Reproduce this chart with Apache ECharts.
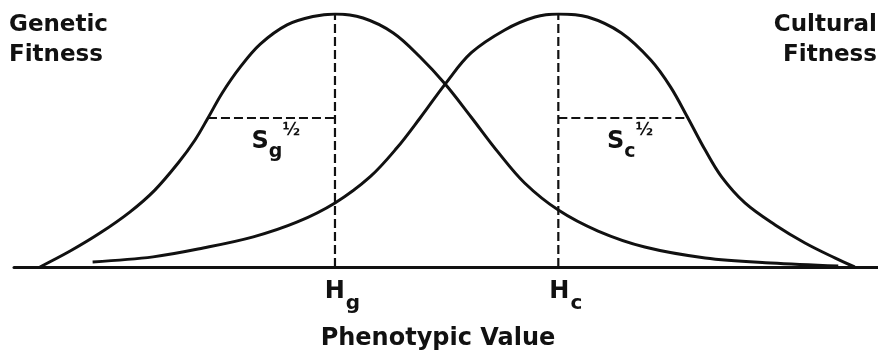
<!DOCTYPE html>
<html lang="en">
<head>
    <meta charset="UTF-8">
    <title>Genetic vs Cultural Fitness</title>
    <script src="https://cdn.jsdelivr.net/npm/echarts@6/dist/echarts.min.js"></script>
</head>
<body style="margin:0">
    <div id="main" style="width: 878px;height: 354px"></div>
    <script type="text/javascript">
        // phenotypic value on a 0-100 scale, fitness relative to the peak (0-1)
        var geneticX = [3.0, 6.5, 9.95, 13.4, 16.3, 19.0, 20.95, 22.45, 24.1, 26.2, 28.5, 31.6, 34.6, 37.15, 40.4, 43.9, 47.0, 49.9, 52.9, 56.0, 59.1, 63.0, 67.6, 73.0, 80.0, 87.6, 95.4];
        var geneticY = [0, 0.063, 0.134, 0.217, 0.304, 0.411, 0.502, 0.589, 0.688, 0.791, 0.881, 0.957, 0.990, 1.0, 0.984, 0.925, 0.830, 0.723, 0.593, 0.455, 0.332, 0.225, 0.142, 0.079, 0.036, 0.016, 0.004];

        var culturalX = [9.1, 16.1, 21.9, 27.7, 32.8, 37.15, 41.2, 44.3, 47.0, 49.9, 52.9, 56.8, 60.3, 63.0, 66.4, 70.3, 73.7, 76.0, 78.0, 80.0, 81.9, 84.6, 88.1, 91.55, 95.0, 97.3];
        var culturalY = [0.020, 0.040, 0.075, 0.119, 0.178, 0.253, 0.356, 0.470, 0.589, 0.723, 0.846, 0.937, 0.988, 1.0, 0.988, 0.925, 0.818, 0.711, 0.589, 0.462, 0.356, 0.253, 0.166, 0.095, 0.036, 0];

        var peakX = [37.15, 63.0];         // H_g, H_c
        var peakSub = ['g', 'c'];
        var halfLevel = 0.589;             // level of the S^1/2 markers
        var halfEdgeX = [22.45, 78.0];     // where the S^1/2 markers meet the curves
        var spreadLabelX = [30.3, 71.3];
        var spreadLabelY = [0.494, 0.494];

        function pairs(xs, ys) {
            var out = [];
            for (var i = 0; i < xs.length; i++) {
                out.push([xs[i], ys[i]]);
            }
            return out;
        }

        var font = 'DejaVu Sans';
        var ink = '#111';
        var guideStyle = {color: ink, width: 2.2, type: [9, 4]};

        option = {
            animation: false,
            backgroundColor: '#fff',
            title: [
                {
                    text: 'Genetic\nFitness',
                    left: 9, top: 10, padding: 0,
                    textStyle: {fontFamily: font, fontSize: 23, fontWeight: 'bold', lineHeight: 30, color: ink}
                },
                {
                    text: 'Cultural\nFitness',
                    left: 'right', top: 10, padding: [0, 1, 0, 0],
                    textStyle: {fontFamily: font, fontSize: 23, fontWeight: 'bold', lineHeight: 30, color: ink}
                }
            ],
            grid: {left: 14, right: 0, top: 14, bottom: 87, outerBoundsMode: 'none'},
            xAxis: {
                type: 'value',
                min: 0,
                max: 100,
                name: 'Phenotypic Value',
                nameLocation: 'middle',
                nameGap: 60,
                nameTextStyle: {fontFamily: font, fontSize: 24, fontWeight: 'bold', color: ink, padding: [0, 16, 0, 0]},
                axisLine: {lineStyle: {color: ink, width: 3}},
                axisTick: {show: false},
                splitLine: {show: false},
                axisLabel: {
                    customValues: peakX,
                    margin: 13,
                    formatter: function (v) {
                        return '{p|}{h|H}{s|' + peakSub[peakX.indexOf(v)] + '}';
                    },
                    rich: {
                        p: {width: 15, lineHeight: 34},
                        h: {fontFamily: font, fontSize: 24, fontWeight: 'bold', color: ink, lineHeight: 34, verticalAlign: 'top'},
                        s: {fontFamily: font, fontSize: 20, fontWeight: 'bold', color: ink, lineHeight: 34, verticalAlign: 'bottom', padding: [8, 0, 0, 1]}
                    }
                }
            },
            yAxis: {
                type: 'value',
                min: 0,
                max: 1,
                show: false
            },
            series: [
                {
                    name: 'Genetic',
                    type: 'line',
                    smooth: 0.35,
                    symbol: 'none',
                    lineStyle: {color: ink, width: 3},
                    data: pairs(geneticX, geneticY)
                },
                {
                    name: 'Cultural',
                    type: 'line',
                    smooth: 0.35,
                    symbol: 'none',
                    lineStyle: {color: ink, width: 3},
                    data: pairs(culturalX, culturalY)
                },
                {
                    type: 'line', symbol: 'none', lineStyle: guideStyle,
                    data: [[peakX[0], 0], [peakX[0], 1]]
                },
                {
                    type: 'line', symbol: 'none', lineStyle: guideStyle,
                    data: [[peakX[1], 0], [peakX[1], 1]]
                },
                {
                    type: 'line', symbol: 'none', lineStyle: guideStyle,
                    data: [[halfEdgeX[0], halfLevel], [peakX[0], halfLevel]]
                },
                {
                    type: 'line', symbol: 'none', lineStyle: guideStyle,
                    data: [[peakX[1], halfLevel], [halfEdgeX[1], halfLevel]]
                },
                {
                    type: 'scatter',
                    symbolSize: 0,
                    itemStyle: {opacity: 1},
                    data: [
                        {value: [spreadLabelX[0], spreadLabelY[0]], sub: 'g'},
                        {value: [spreadLabelX[1], spreadLabelY[1]], sub: 'c'}
                    ],
                    label: {
                        show: true,
                        position: 'inside',
                        opacity: 1,
                        formatter: function (p) {
                            return '{s|S}{b|' + p.data.sub + '}{t|½}';
                        },
                        rich: {
                            s: {fontFamily: font, fontSize: 24, fontWeight: 'bold', color: ink, lineHeight: 40, verticalAlign: 'middle'},
                            b: {fontFamily: font, fontSize: 19, fontWeight: 'bold', color: ink, lineHeight: 20, verticalAlign: 'bottom'},
                            t: {fontFamily: font, fontSize: 17, fontWeight: 'bold', color: ink, lineHeight: 18, verticalAlign: 'top'}
                        }
                    }
                }
            ]
        };

        var myChart = echarts.init(document.getElementById('main'));
        myChart.setOption(option);
    </script>
</body>
</html>
